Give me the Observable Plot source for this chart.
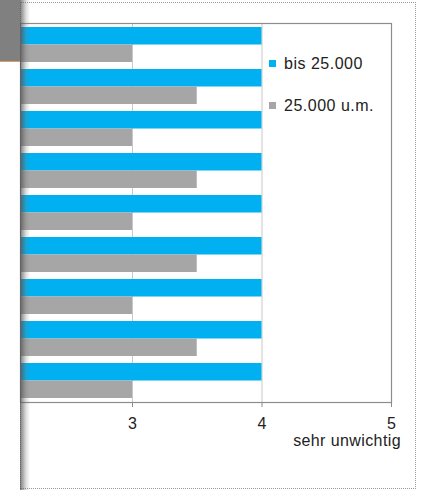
<!DOCTYPE html>
<html>
<head>
<meta charset="utf-8">
<script src="https://cdn.jsdelivr.net/npm/d3@7"></script>
<script src="https://cdn.jsdelivr.net/npm/@observablehq/plot@0.6"></script>
<style>
  html, body { margin: 0; padding: 0; background: #fff; }
  body { width: 423px; height: 490px; position: relative; overflow: hidden; font-family: "Liberation Sans", Arial, sans-serif; }
  #chart { position: absolute; left: 0; top: 0; }
  .outer { position: absolute; left: 20px; top: 2px; width: 394px; height: 485px; border: 1px dotted #9a9a9a; }
  .box { position: absolute; left: 0; top: 0; width: 20px; height: 61px; background: #808080; border-bottom: 1px solid #d9a066; }
  .shadow { position: absolute; left: 20px; top: 0; width: 10px; height: 490px; background: linear-gradient(to right, rgba(80,80,80,0.75), rgba(120,120,120,0.25) 60%, rgba(255,255,255,0)); }
  .leg { position: absolute; left: 269px; font-size: 16px; letter-spacing: 0.5px; color: #222; white-space: nowrap; line-height: 16px; }
  .leg i { position: absolute; left: 0; top: 4.5px; width: 7px; height: 7px; }
  .leg span { position: absolute; left: 15px; top: 0; }
  .xlabel { position: absolute; right: 22px; top: 433px; font-size: 16px; letter-spacing: 0.4px; line-height: 16px; color: #222; white-space: nowrap; }
</style>
</head>
<body>
<div class="outer"></div>
<div id="chart"></div>
<div class="leg" style="top:55.5px"><i style="background:#00b0f0"></i><span>bis 25.000</span></div>
<div class="leg" style="top:97.5px"><i style="background:#a6a6a6"></i><span>25.000 u.m.</span></div>
<div class="xlabel">sehr unwichtig</div>
<div class="shadow"></div>
<div class="box"></div>
<script>
const categories = ["1", "2", "3", "4", "5", "6", "7", "8", "9"];
const seriesNames = ["bis 25.000", "25.000 u.m."];
const bis25000 = [4, 4, 4, 4, 4, 4, 4, 4, 4];
const ueber25000 = [3, 3.5, 3, 3.5, 3, 3.5, 3, 3.5, 3];
const xTicks = [3, 4, 5];

const blue = categories.map((c, i) => ({cat: c, v: bis25000[i]}));
const gray = categories.map((c, i) => ({cat: c, v: ueber25000[i]}));

const half = 17.5;
const chart = Plot.plot({
  width: 423,
  height: 490,
  marginTop: 23,
  marginBottom: 88,
  marginLeft: 20,
  marginRight: 32,
  style: {fontFamily: "Liberation Sans, Arial, sans-serif", fontSize: "16px", color: "#222", background: "transparent"},
  x: {domain: [1, 5], range: [-127, 391]},
  y: {domain: categories, paddingInner: 0.17, paddingOuter: 0.085},
  marks: [
    Plot.gridX(xTicks.slice(0, 2), {stroke: "#c8c8c8", strokeOpacity: 1}),
    Plot.barX(blue, {x: "v", y: "cat", fill: "#00b0f0", insetBottom: half, clip: true}),
    Plot.barX(gray, {x: "v", y: "cat", fill: "#a6a6a6", insetTop: half, clip: true}),
    Plot.frame({stroke: "#8c8c8c", strokeWidth: 1.2}),
    Plot.axisX({ticks: xTicks, tickFormat: d3.format("d"), tickSize: 5, tickPadding: 10, label: null, stroke: "#8c8c8c", fill: "#222", fontSize: 16}),
    Plot.axisY({ticks: [], label: null})
  ]
});
document.getElementById("chart").appendChild(chart);
</script>
</body>
</html>
